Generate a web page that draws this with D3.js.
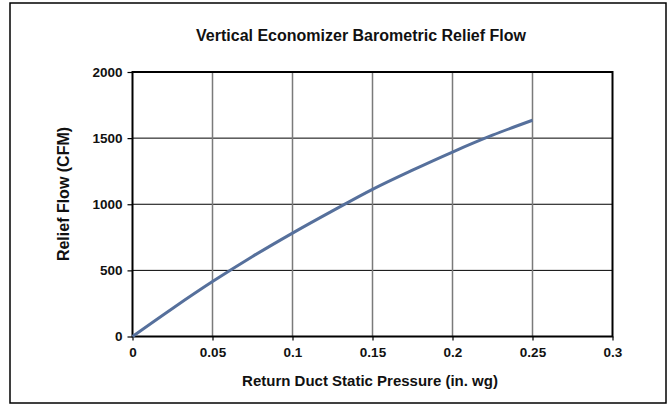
<!DOCTYPE html>
<html>
<head>
<meta charset="utf-8">
<script src="https://cdn.jsdelivr.net/npm/d3@7"></script>
<style>
  body { margin: 0; background: #fff; }
  text { font-family: "Liberation Sans", Arial, sans-serif; font-weight: bold; fill: #111; }
</style>
</head>
<body>
<svg id="chart"></svg>
<script>
// values
let pressure = [0, 0.025, 0.05, 0.075, 0.1, 0.125, 0.15, 0.175, 0.2, 0.225, 0.25];
let flow = [0, 212, 415, 605, 782, 950, 1113, 1258, 1395, 1522, 1635];
let xTicks = [0, 0.05, 0.1, 0.15, 0.2, 0.25, 0.3];
let yTicks = [0, 500, 1000, 1500, 2000];

let w = 672;
let h = 405;
let m = {top: 72, right: 59.5, bottom: 68.5, left: 132.5};

let svg = d3.select('#chart')
	.attr('width', w)
	.attr('height', h);

// outer frame
svg.append('rect')
	.attr('x', 10).attr('y', 3)
	.attr('width', 656).attr('height', 400)
	.style('fill', 'none')
	.style('stroke', '#000')
	.style('stroke-width', 1.5);

let x = d3.scaleLinear().domain([0, 0.3]).range([m.left, w - m.right]);
let y = d3.scaleLinear().domain([0, 2000]).range([h - m.bottom, m.top]);

// grid
svg.append('g')
	.selectAll('line')
	.data(yTicks.slice(1, -1))
	.enter()
	.append('line')
	.attr('x1', x(0)).attr('x2', x(0.3))
	.attr('y1', d => y(d)).attr('y2', d => y(d))
	.style('stroke', '#000')
	.style('stroke-width', 1);

svg.append('g')
	.selectAll('line')
	.data(xTicks.slice(1, -1))
	.enter()
	.append('line')
	.attr('x1', d => x(d)).attr('x2', d => x(d))
	.attr('y1', y(0)).attr('y2', y(2000))
	.style('stroke', '#7a7a7a')
	.style('stroke-width', 1.5);

// axes
let xAxis = svg.append('g')
	.attr('transform', `translate(0,${y(0)})`)
	.call(d3.axisBottom(x).tickValues(xTicks).tickSize(4).tickPadding(7).tickFormat(d => String(+d.toFixed(2))));
let yAxis = svg.append('g')
	.attr('transform', `translate(${x(0)},0)`)
	.call(d3.axisLeft(y).tickValues(yTicks).tickSize(5).tickPadding(5).tickFormat(d => String(d)));

[xAxis, yAxis].forEach(a => {
	a.select('.domain').remove();
	a.selectAll('line').style('stroke', '#000').style('stroke-width', 1.2);
	a.selectAll('text').style('font-size', '13.5px').style('fill', '#111');
});

// plot frame
svg.append('rect')
	.attr('x', x(0)).attr('y', y(2000))
	.attr('width', x(0.3) - x(0)).attr('height', y(0) - y(2000))
	.style('fill', 'none')
	.style('stroke', '#000')
	.style('stroke-width', 2);

// curve
let line = d3.line()
	.x((d, i) => x(pressure[i]))
	.y(d => y(d))
	.curve(d3.curveMonotoneX);

svg.append('path')
	.datum(flow)
	.attr('d', line)
	.style('fill', 'none')
	.style('stroke', '#56709c')
	.style('stroke-width', 3);

// titles
svg.append('text')
	.attr('x', 361).attr('y', 41)
	.attr('text-anchor', 'middle')
	.style('font-size', '16px')
	.text('Vertical Economizer Barometric Relief Flow');

svg.append('text')
	.attr('x', 370).attr('y', 386)
	.attr('text-anchor', 'middle')
	.style('font-size', '15px')
	.text('Return Duct Static Pressure (in. wg)');

svg.append('text')
	.attr('transform', 'translate(69,194) rotate(-90)')
	.attr('text-anchor', 'middle')
	.style('font-size', '16px')
	.text('Relief Flow (CFM)');
</script>
</body>
</html>
